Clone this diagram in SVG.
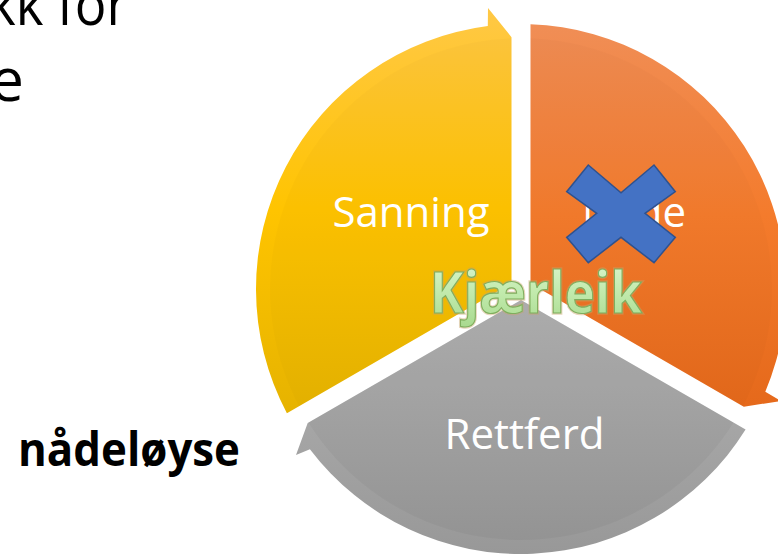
<svg xmlns="http://www.w3.org/2000/svg" width="778" height="555" viewBox="0 0 778 555">
<style>
.lbl{font-family:"Open Sans","Liberation Sans",sans-serif;font-size:42px;fill:#ffffff;text-anchor:middle}
.side{font-family:"Open Sans","Liberation Sans",sans-serif;fill:#000000}
.kj{font-family:"Open Sans","Liberation Sans",sans-serif;font-weight:bold;font-size:58px;text-anchor:middle}
</style>
<defs>
<linearGradient id="gY" x1="0" y1="0" x2="0" y2="1">
<stop offset="0" stop-color="#FFC846"/>
<stop offset="0.5" stop-color="#FFC400"/>
<stop offset="1" stop-color="#E6B300"/>
</linearGradient>
<linearGradient id="gO" x1="0" y1="0" x2="0" y2="1">
<stop offset="0" stop-color="#F08E56"/>
<stop offset="0.5" stop-color="#F47B2C"/>
<stop offset="1" stop-color="#E5691B"/>
</linearGradient>
<linearGradient id="gG" x1="0" y1="0" x2="0" y2="1">
<stop offset="0" stop-color="#B3B3B3"/>
<stop offset="1" stop-color="#989898"/>
</linearGradient>
<linearGradient id="gK" x1="0" y1="0" x2="0" y2="1">
<stop offset="0" stop-color="#E2F7D6"/>
<stop offset="0.5" stop-color="#C3EBAE"/>
<stop offset="1" stop-color="#A6D88C"/>
</linearGradient>
<clipPath id="inner"><circle cx="521" cy="289" r="251"/></clipPath>
</defs>

<g id="left-text">
<text class="side" x="128" y="25" font-size="58" text-anchor="end" textLength="140" lengthAdjust="spacingAndGlyphs">kk for</text>
<text class="side" x="24" y="101" font-size="60" text-anchor="end">e</text>
</g>

<g id="node-sanning">
<path d="M286.9 413.2 A265 265 0 0 1 487.8 26.1 L488 7.9 L511.5 37.2 L511.5 283.5 Z" fill="url(#gY)"/>
<path d="M286.9 413.2 A265 265 0 0 1 487.8 26.1 L488 7.9 L511.5 37.2 L511.5 283.5 Z" fill="#000" opacity="0.015" clip-path="url(#inner)"/>
<text class="lbl" x="411" y="227">Sanning</text>
</g>

<g id="node-nade">
<path d="M530.5 24.2 A265 265 0 0 1 765.3 391.7 L780.9 401 L743.8 406.7 L530.5 283.5 Z" fill="url(#gO)"/>
<path d="M530.5 24.2 A265 265 0 0 1 765.3 391.7 L780.9 401 L743.8 406.7 L530.5 283.5 Z" fill="#000" opacity="0.015" clip-path="url(#inner)"/>
<text class="lbl" x="634" y="227">Nåde</text>
</g>

<g id="node-rettferd">
<path d="M745.6 429.6 A265 265 0 0 1 309.9 449.2 L296 455 L307.7 423.1 L521 300 Z" fill="url(#gG)"/>
<path d="M745.6 429.6 A265 265 0 0 1 309.9 449.2 L296 455 L307.7 423.1 L521 300 Z" fill="#000" opacity="0.035" clip-path="url(#inner)"/>
<text class="lbl" x="524.5" y="449">Rettferd</text>
</g>

<g id="cross">
<polygon points="588.3,165 621,192.7 654,165 675.3,191.7 645,213.3 675.3,237.3 654,262.7 621,237.3 588.3,262.7 566.7,237.3 596.7,213.3 566.7,191.7" fill="#4472C4" stroke="#2F528F" stroke-width="1.5" stroke-linejoin="miter"/>
</g>

<g id="node-kjaerleik">
<text class="kj" x="536" y="313" textLength="212" lengthAdjust="spacingAndGlyphs" fill="none" stroke="#C9A36A" stroke-width="3.5" stroke-opacity="0.45">Kjærleik</text>
<text class="kj" x="536" y="313" textLength="212" lengthAdjust="spacingAndGlyphs" fill="url(#gK)" stroke="#7FAE5E" stroke-width="1.2">Kjærleik</text>
</g>

<g id="node-nadeloyse">
<text class="side" x="18" y="466" font-size="46" font-weight="bold" textLength="222" lengthAdjust="spacingAndGlyphs">nådeløyse</text>
</g>
</svg>
